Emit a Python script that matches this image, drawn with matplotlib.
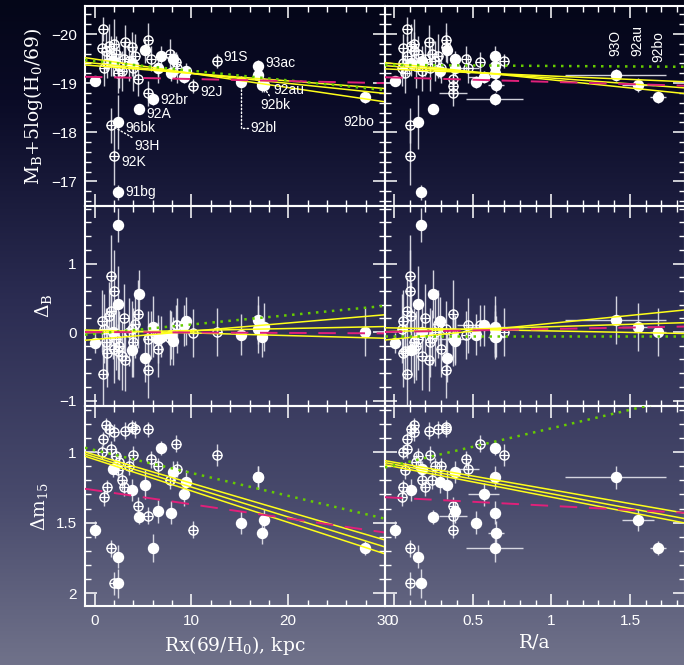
import numpy as np
import matplotlib
matplotlib.use("Agg")
import matplotlib.pyplot as plt
from matplotlib.ticker import MultipleLocator, FuncFormatter

# ---- data, one entry per supernova (filled = early-type hosts, open = spirals) ----
filled_name = ["", "96bk", "91bg", "92A", "92br", "", "", "", "", "", "", "", "", "",
               "92bl", "93O", "92au", "92bk", "93ac", "92bo"]
filled_kpc = [0.0, 2.4, 2.4, 4.6, 6.0, 5.2, 6.9, 8.05, 9.25, 9.4, 6.5, 7.9, 3.9, 1.9,
              15.1, 16.9, 17.5, 17.3, 16.9, 27.9]
filled_ra = [0.006, 0.154, 0.17, 0.25, 0.64, 0.34, 0.64, 0.39, 0.57, 0.29, 0.39, 0.64, 0.11, 0.18,
             0.52, 1.41, 1.55, 0.65, 0.64, 1.68]
filled_ra_err = [0, 0, 0, 0, 0.18, 0, 0, 0, 0.10, 0, 0, 0, 0, 0,
                 0, 0.32, 0.10, 0.05, 0, 0.05]
filled_mb = [-19.05, -18.21, -16.78, -18.48, -18.67, -19.67, -19.55, -19.50, -19.13, -19.25,
             -19.30, -19.20, -19.40, -19.45, -19.03, -19.16, -18.96, -18.97, -19.35, -18.72]
filled_mb_err = [0.08, 0.55, 0.15, 0.10, 0.12, 0.25, 0.20, 0.15, 0.12, 0.15,
                 0.15, 0.15, 0.25, 0.30, 0.12, 0.12, 0.15, 0.15, 0.12, 0.12]
filled_db = [-0.16, 0.41, 1.56, 0.55, 0.08, -0.38, -0.07, -0.13, 0.10, 0.16,
             -0.10, -0.05, -0.26, 0.00, -0.04, 0.17, 0.07, -0.07, 0.05, 0.00]
filled_db_err = [0.15, 0.55, 0.25, 0.35, 0.45, 0.35, 0.30, 0.35, 0.30, 0.35,
                 0.35, 0.35, 0.40, 0.40, 0.30, 0.35, 0.35, 0.30, 0.35, 0.35]
filled_dm = [1.55, 1.74, 1.93, 1.46, 1.68, 1.23, 0.97, 1.14, 1.30, 1.21,
             1.42, 1.43, 1.27, 1.12, 1.50, 1.18, 1.48, 1.57, 1.18, 1.68]
filled_dm_err = [0.06, 0.08, 0.10, 0.05, 0.10, 0.10, 0.05, 0.08, 0.08, 0.08,
                 0.08, 0.08, 0.08, 0.06, 0.08, 0.08, 0.08, 0.08, 0.08, 0.05]

open_name = [""] * 14 + ["92J", "91S", "93H", "92K"] + [""] * 12
open_kpc = [0.85, 0.8, 1.5, 2.0, 1.7, 2.2, 1.3, 3.1, 3.9, 5.5, 5.8, 8.4, 4.45, 5.5,
            10.2, 12.6, 1.7, 2.0, 2.5, 3.5, 4.2, 2.8, 4.0, 6.5, 1.0, 7.8, 1.2, 3.0, 2.4, 8.5]
open_ra = [0.084, 0.06, 0.11, 0.13, 0.08, 0.15, 0.06, 0.22, 0.33, 0.33, 0.46, 0.55, 0.375, 0.375,
           0.375, 0.70, 0.10, 0.10, 0.14, 0.26, 0.28, 0.18, 0.23, 0.30, 0.05, 0.24, 0.13, 0.20, 0.07, 0.47]
open_ra_err = [0] * 13 + [0.09] + [0] * 15 + [0.07]
open_mb = [-20.10, -19.71, -19.75, -19.80, -19.55, -19.60, -19.40, -19.84, -19.74, -19.88,
           -19.50, -19.43, -19.08, -18.79, -18.94, -19.45, -18.14, -17.52, -19.35, -19.45,
           -19.55, -19.25, -19.30, -19.30, -19.30, -19.60, -19.65, -19.50, -19.20, -19.30]
open_mb_err = [0.25, 0.30, 0.45, 0.50, 0.40, 0.35, 0.30, 0.35, 0.30, 0.35,
               0.25, 0.20, 0.35, 0.25, 0.15, 0.15, 0.35, 0.60, 0.45, 0.40,
               0.45, 0.40, 0.45, 0.30, 0.35, 0.30, 0.40, 0.35, 0.40, 0.30]
open_db = [-0.61, 0.16, 0.23, -0.25, 0.30, -0.10, -0.30, -0.41, 0.05, -0.56,
           -0.04, 0.10, 0.26, -0.10, -0.02, 0.00, 0.82, 0.60, -0.20, 0.00,
           0.12, -0.35, -0.15, -0.25, 0.05, -0.08, -0.15, 0.20, -0.28, 0.10]
open_db_err = [0.45, 0.45, 0.50, 0.50, 0.50, 0.45, 0.50, 0.45, 0.40, 0.40,
               0.35, 0.30, 0.50, 0.40, 0.35, 0.35, 0.60, 0.60, 0.50, 0.50,
               0.50, 0.50, 0.50, 0.40, 0.50, 0.40, 0.50, 0.50, 0.40, 0.40]
open_dm = [0.91, 1.00, 0.84, 0.86, 0.98, 1.03, 1.25, 0.85, 0.82, 0.84,
           1.05, 0.94, 1.38, 1.45, 1.55, 1.02, 1.68, 1.93, 1.07, 1.10,
           0.84, 1.20, 1.02, 1.10, 1.32, 1.20, 0.81, 1.25, 1.13, 1.12]
open_dm_err = [0.05, 0.05, 0.05, 0.06, 0.06, 0.06, 0.05, 0.06, 0.05, 0.05,
               0.06, 0.06, 0.06, 0.06, 0.06, 0.08, 0.06, 0.08, 0.06, 0.06,
               0.06, 0.07, 0.06, 0.06, 0.06, 0.06, 0.05, 0.06, 0.06, 0.06]

# ---- straight-line fits, (intercept, slope) per panel ----
mb_kpc_yellow = [(-19.355, 0.0155), (-19.405, 0.0205), (-19.49, 0.029)]
mb_kpc_green = (-19.45, 0.0197)
mb_kpc_magenta = (-19.126, 0.0042)
mb_ra_yellow = [(-19.282, 0.137), (-19.342, 0.237), (-19.398, 0.33)]
mb_ra_green = (-19.37, 0.02)
mb_ra_magenta = (-19.115, 0.09)
db_kpc_yellow = [(-0.108, 0.012), (-0.007, 0.0029), (0.026, -0.0039)]
db_kpc_green = (-0.026, 0.0136)
db_kpc_magenta = (0.0, -0.00065)
db_ra_yellow = [(-0.103, 0.23), (0.009, 0.069), (0.060, -0.044)]
db_ra_green = (-0.06, 0.0)
db_ra_magenta = (0.0025, 0.042)
dm_kpc_yellow = [(1.02, 0.0201), (1.036, 0.0212), (1.052, 0.0223)]
dm_kpc_green = (0.986, 0.0162)
dm_kpc_magenta = (1.27, 0.010)
dm_ra_yellow = [(1.072, 0.195), (1.087, 0.208), (1.103, 0.216)]
dm_ra_green = (1.094, -0.262)
dm_ra_magenta = (1.323, 0.058)

plt.rcParams["font.family"] = ["Liberation Sans", "DejaVu Sans"]
plt.rcParams["mathtext.fontset"] = "dejavuserif"

W, H = 684, 665
fig = plt.figure(figsize=(W / 100, H / 100), dpi=100)

# background gradient
stops = [0.0, 0.15, 0.45, 0.75, 1.0]
cols = np.array([[4, 6, 24], [10, 11, 38], [43, 44, 82], [72, 74, 108], [112, 114, 138]]) / 255
t = np.linspace(0, 1, 400)
grad = np.stack([np.interp(t, stops, cols[:, i]) for i in range(3)], axis=-1)[:, None, :]
bg = fig.add_axes([0, 0, 1, 1], zorder=-10)
bg.imshow(grad, aspect="auto", extent=[0, 1, 0, 1])
bg.axis("off")

ERR = "#e6e6ee"
YEL = "#ffff1a"
GRN = "#66cc00"
MAG = "#e0207a"
fmt_g = FuncFormatter(lambda v, p: f"{v:g}".replace("-", "\u2212"))

col_left = [85 / W, 385 / W]
row_bottom = [1 - 206 / H, 1 - 406 / H, 1 - 606 / H]
aw, ah = 300 / W, 200 / H

rows = [
    (filled_mb, filled_mb_err, open_mb, open_mb_err, (-16.5, -20.57), 1, 0.2,
     [(mb_kpc_yellow, mb_kpc_green, mb_kpc_magenta), (mb_ra_yellow, mb_ra_green, mb_ra_magenta)],
     r"M$_\mathrm{B}$+5log(H$_0$/69)"),
    (filled_db, filled_db_err, open_db, open_db_err, (-1.08, 1.84), 1, 0.2,
     [(db_kpc_yellow, db_kpc_green, db_kpc_magenta), (db_ra_yellow, db_ra_green, db_ra_magenta)],
     r"$\Delta_\mathrm{B}$"),
    (filled_dm, filled_dm_err, open_dm, open_dm_err, (2.09, 0.674), 0.5, 0.1,
     [(dm_kpc_yellow, dm_kpc_green, dm_kpc_magenta), (dm_ra_yellow, dm_ra_green, dm_ra_magenta)],
     r"$\Delta$m$_{15}$"),
]
cols_x = [
    (filled_kpc, [0] * len(filled_kpc), open_kpc, [0] * len(open_kpc), (-1.0, 30.0), 10, 2,
     "Rx(69/H$_0$), kpc"),
    (filled_ra, filled_ra_err, open_ra, open_ra_err, (-0.057, 1.85), 0.5, 0.1, "R/a"),
]

axes = {}
for r, (fy, fye, oy, oye, ylim, ymaj, ymin, fits, ylab) in enumerate(rows):
    for c, (fx, fxe, ox, oxe, xlim, xmaj, xmin, xlab) in enumerate(cols_x):
        ax = fig.add_axes([col_left[c], row_bottom[r], aw, ah])
        ax.patch.set_alpha(0)
        axes[r, c] = ax
        ax.errorbar(ox, oy, yerr=oye, xerr=oxe, fmt="none", ecolor=ERR, elinewidth=1.0,
                    alpha=0.9, zorder=2)
        ax.errorbar(fx, fy, yerr=fye, xerr=fxe, fmt="none", ecolor=ERR, elinewidth=1.0,
                    alpha=0.9, zorder=2)
        ax.plot(ox, oy, "o", ms=6.5, mfc="none", mec="white", mew=1.0, zorder=3)
        ax.plot(ox, oy, "+", ms=6.5, color="white", mew=0.9, zorder=3)
        ax.plot(fx, fy, "o", ms=7.2, color="white", mec="white", zorder=3)

        yel, grn, mag = fits[c]
        xs = np.array(xlim)
        for a, b in yel:
            ax.plot(xs, a + b * xs, color=YEL, lw=1.1, zorder=4)
        ax.plot(xs, grn[0] + grn[1] * xs, color=GRN, lw=1.8, ls=(0, (1, 2.2)), zorder=4)
        ax.plot(xs, mag[0] + mag[1] * xs, color=MAG, lw=1.4, ls=(0, (9, 6)), zorder=4)

        ax.set_xlim(xlim)
        ax.set_ylim(ylim)
        ax.xaxis.set_major_locator(MultipleLocator(xmaj))
        ax.xaxis.set_minor_locator(MultipleLocator(xmin))
        ax.yaxis.set_major_locator(MultipleLocator(ymaj))
        ax.yaxis.set_minor_locator(MultipleLocator(ymin))
        ax.xaxis.set_major_formatter(fmt_g)
        ax.yaxis.set_major_formatter(fmt_g)
        ax.tick_params(which="both", direction="in", top=True, right=True,
                       colors="white", labelcolor="white", labelsize=11,
                       labelbottom=(r == 2), labelleft=(c == 0), pad=6)
        ax.tick_params(which="major", length=8.5, width=1.1)
        ax.tick_params(which="minor", length=4.5, width=1.0)
        for s in ax.spines.values():
            s.set_color("white")
            s.set_linewidth(1.5)
        if r == 2:
            ax.set_xlabel(xlab, color="white", fontsize=13.5, family="DejaVu Serif", labelpad=4)
        if c == 0:
            ax.set_ylabel(ylab, color="white", fontsize=13.5, family="DejaVu Serif", labelpad=4)

# ---- labels in the top-left panel ----
ax = axes[0, 0]
lab_kw = dict(color="white", fontsize=10, textcoords="offset points", va="center", zorder=5)
simple = {"96bk": (5.5, -4), "91bg": (5.5, 0), "92A": (5.5, -3.5), "92br": (5.5, -0.5),
          "93ac": (5.5, 2), "92au": (7, -3.5)}
for name, off in simple.items():
    i = filled_name.index(name)
    ax.annotate(name, (filled_kpc[i], filled_mb[i]), xytext=off, **lab_kw)
for name, off in {"92J": (5, -4), "91S": (5, 3), "92K": (5.5, -4.5)}.items():
    i = open_name.index(name)
    ax.annotate(name, (open_kpc[i], open_mb[i]), xytext=off, **lab_kw)
i = open_name.index("93H")
ax.annotate("93H", (open_kpc[i], open_mb[i]), xytext=(17, -15), **lab_kw,
            arrowprops=dict(arrowstyle="-", ls=":", color="white", lw=1, shrinkA=0, shrinkB=3))
i = filled_name.index("92bk")
ax.annotate("92bk", (filled_kpc[i], filled_mb[i]), xytext=(-1, -15), **lab_kw,
            arrowprops=dict(arrowstyle="-", ls=":", color="white", lw=1, shrinkA=0, shrinkB=3))
i = filled_name.index("92bl")
ax.annotate("92bl", (filled_kpc[i], filled_mb[i]), xytext=(7, -33), **lab_kw,
            arrowprops=dict(arrowstyle="-", ls=":", color="white", lw=1, shrinkA=0, shrinkB=3,
                            connectionstyle="angle,angleA=0,angleB=90,rad=0"))
i = filled_name.index("92bo")
ax.annotate("92bo", (filled_kpc[i], filled_mb[i]), xytext=(-4.5, -18), ha="center", **lab_kw)

# rotated labels in the top-right panel
ax = axes[0, 1]
for name, dy in {"93O": 14, "92au": 21, "92bo": 25}.items():
    i = filled_name.index(name)
    ax.annotate(name, (filled_ra[i], filled_mb[i]), xytext=(0, dy), textcoords="offset points",
                rotation=90, ha="center", va="bottom", color="white", fontsize=10, zorder=5)

fig.savefig("out.png", dpi=100)
